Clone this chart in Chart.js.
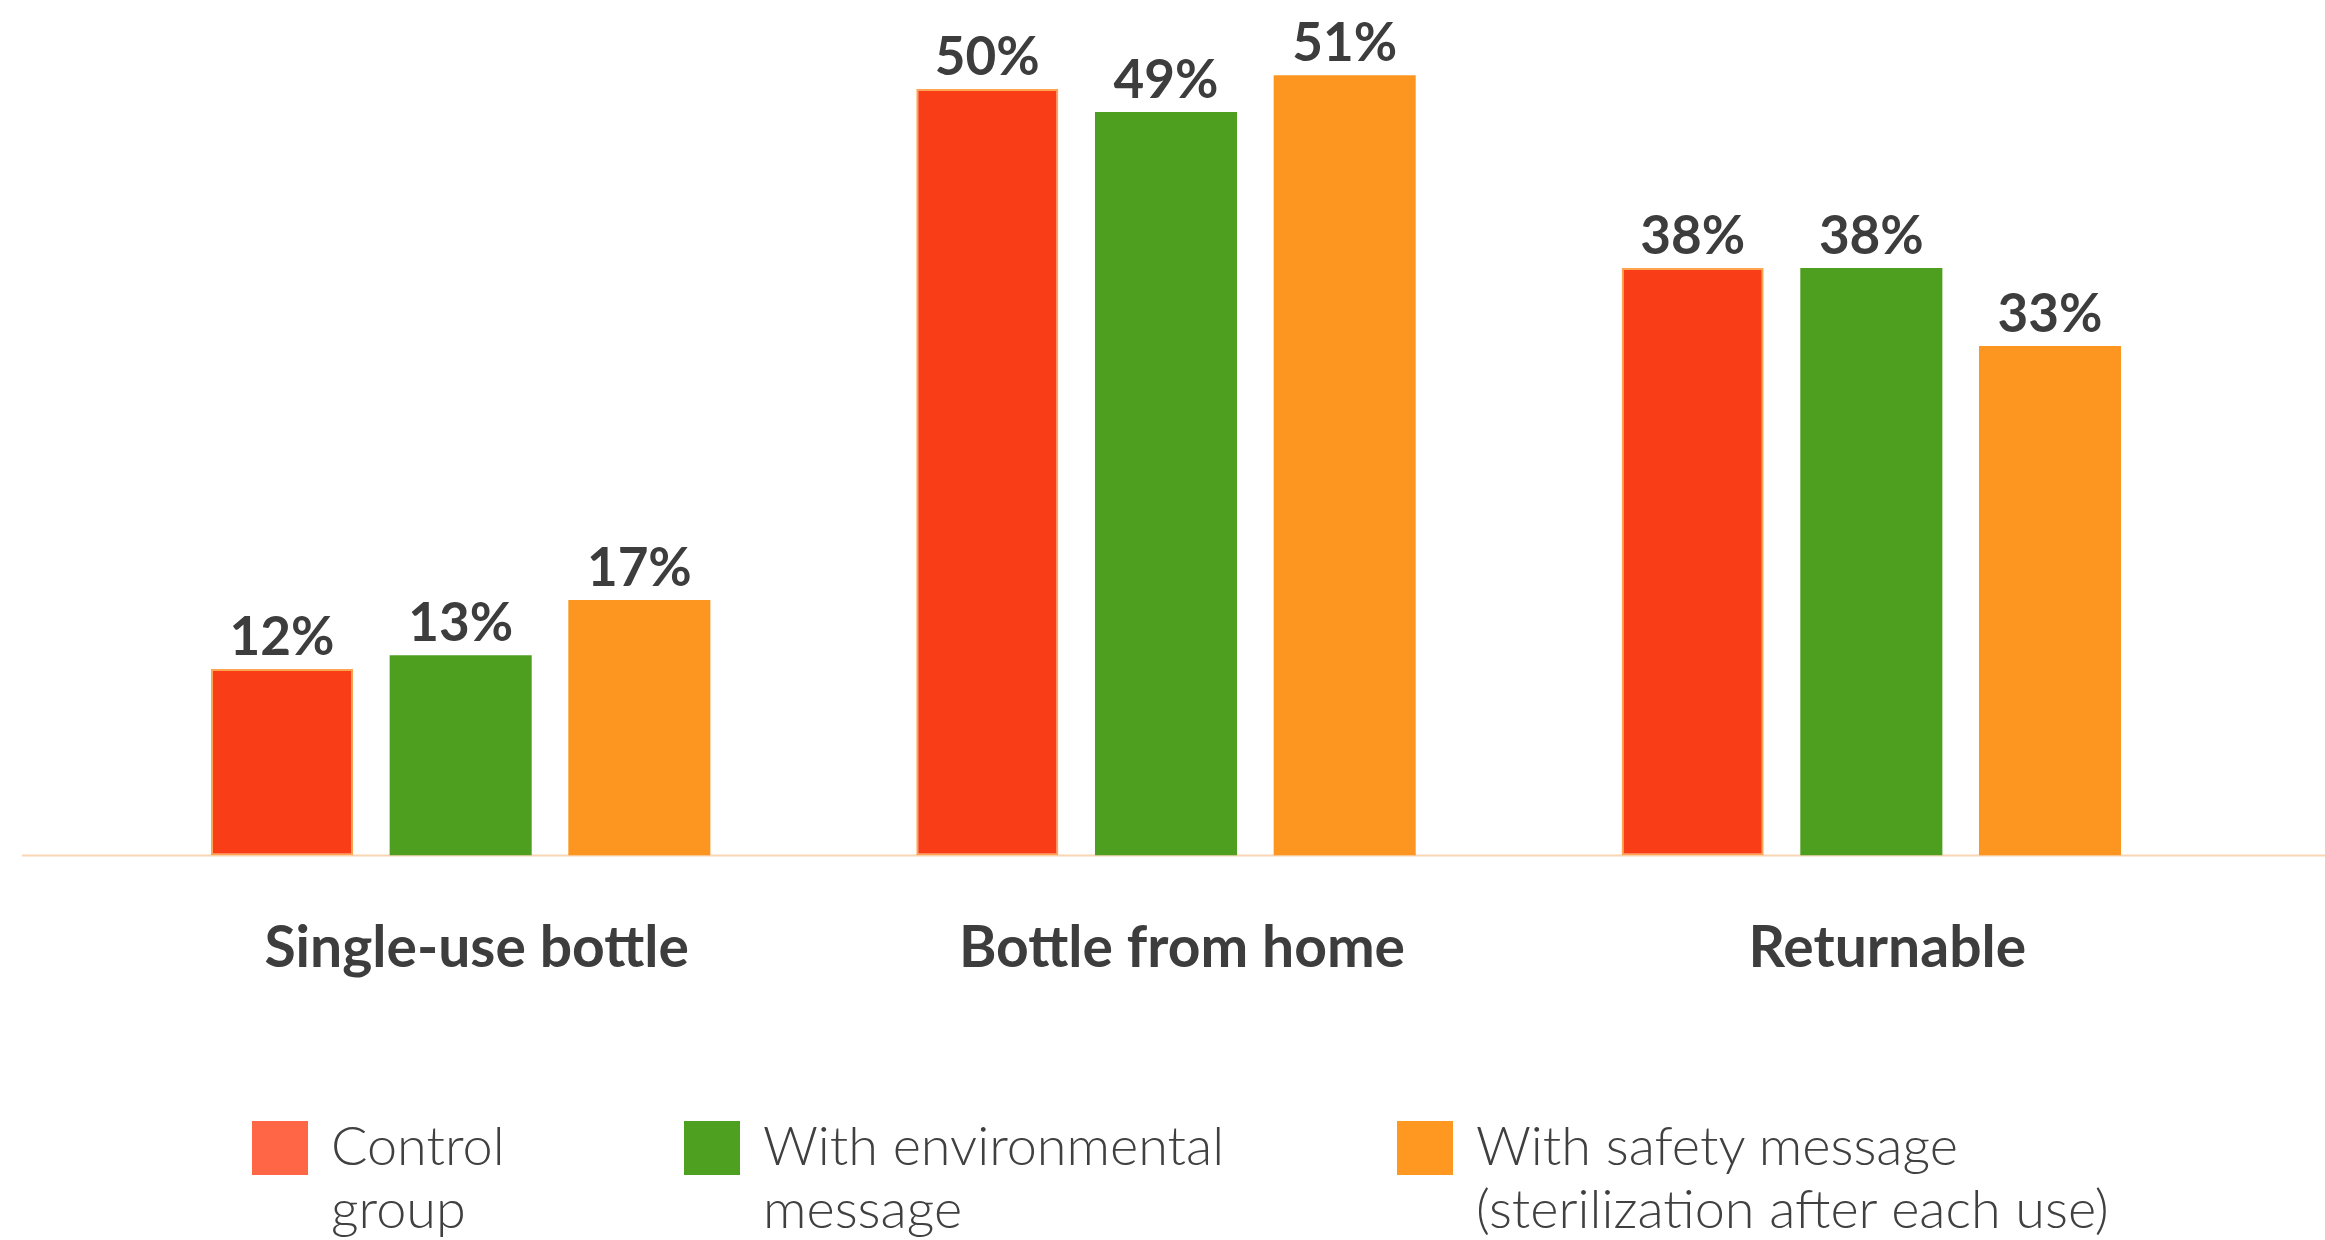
<!DOCTYPE html>
<html>
<head>
<meta charset="utf-8">
<script src="https://cdn.jsdelivr.net/npm/chart.js@4.4.1/dist/chart.umd.min.js"></script>
<style>
  body { margin: 0; background: #fff; }
  #wrap { position: relative; width: 2325px; height: 1240px; overflow: hidden; }
  #legend { position: absolute; left: 0; top: 1113px; font-family: Lato, "Open Sans", sans-serif; font-weight: 300; font-size: 54px; line-height: 63px; color: #404040; }
  .item { position: absolute; top: 0; display: flex; white-space: nowrap; }
  .box { width: 56px; height: 54px; margin-top: 8px; margin-right: 23px; flex: none; }
</style>
</head>
<body>
<div id="wrap">
  <canvas id="bottles" width="2325" height="1240"></canvas>
  <div id="legend"></div>
</div>
<script>
const categories = ['Single-use bottle', 'Bottle from home', 'Returnable'];
const control = [12.2, 50.1, 38.4];
const environmental = [13.1, 48.6, 38.4];
const safety = [16.7, 51.0, 33.3];
const seriesNames = [['Control', 'group'], ['With environmental', 'message'], ['With safety message', '(sterilization after each use)']];
const legendColors = ['#FF6646', '#4EA020', '#FF9820'];
const legendLeft = [252, 684, 1397];

// value labels over each bar
const valueLabels = {
  id: 'valueLabels',
  afterDatasetsDraw(chart) {
    const ctx = chart.ctx;
    ctx.save();
    ctx.font = 'bold 53px Lato';
    ctx.fillStyle = '#3d3d3d';
    ctx.textAlign = 'center';
    ctx.textBaseline = 'alphabetic';
    chart.data.datasets.forEach((ds, i) => {
      chart.getDatasetMeta(i).data.forEach((bar, j) => {
        ctx.fillText(Math.round(ds.data[j]) + '%', bar.x, bar.y - 14);
      });
    });
    ctx.restore();
  }
};

// thin baseline across the whole width
const baseline = {
  id: 'baseline',
  beforeDatasetsDraw(chart) {
    const ctx = chart.ctx;
    const y = chart.scales.y.getPixelForValue(0);
    ctx.save();
    ctx.strokeStyle = '#F8D6B4';
    ctx.lineWidth = 2;
    ctx.beginPath();
    ctx.moveTo(22, y);
    ctx.lineTo(chart.width, y);
    ctx.stroke();
    ctx.restore();
  }
};

const chart = new Chart(document.getElementById('bottles'), {
  type: 'bar',
  data: {
    labels: categories,
    datasets: [
      { label: seriesNames[0].join(' '), data: control, backgroundColor: '#F93D17', borderColor: '#FFA552', borderWidth: 2, borderSkipped: false },
      { label: seriesNames[1].join(' '), data: environmental, backgroundColor: '#4E9F20', borderWidth: 0 },
      { label: seriesNames[2].join(' '), data: safety, backgroundColor: '#FD9620', borderWidth: 0 }
    ]
  },
  options: {
    responsive: false,
    animation: false,
    devicePixelRatio: 1,
    categoryPercentage: 0.76,
    barPercentage: 0.795,
    layout: { padding: { left: 108, right: 101, top: 14, bottom: 198 } },
    plugins: {
      legend: { display: false },
      tooltip: { enabled: false }
    },
    scales: {
      x: {
        grid: { display: false, drawTicks: false },
        border: { display: false },
        ticks: { padding: 59, labelOffset: 16, color: '#3d3d3d', font: { family: 'Lato', weight: 'bold', size: 57 } }
      },
      y: { display: false, min: 0, max: 55 }
    }
  },
  plugins: [baseline, valueLabels]
});

// legend with wrapped labels
const legend = document.getElementById('legend');
chart.data.datasets.forEach((ds, i) => {
  const item = document.createElement('div');
  item.className = 'item';
  item.style.left = legendLeft[i] + 'px';
  item.innerHTML = '<div class="box" style="background:' + legendColors[i] + '"></div><div>' + seriesNames[i].join('<br>') + '</div>';
  legend.appendChild(item);
});
</script>
</body>
</html>
